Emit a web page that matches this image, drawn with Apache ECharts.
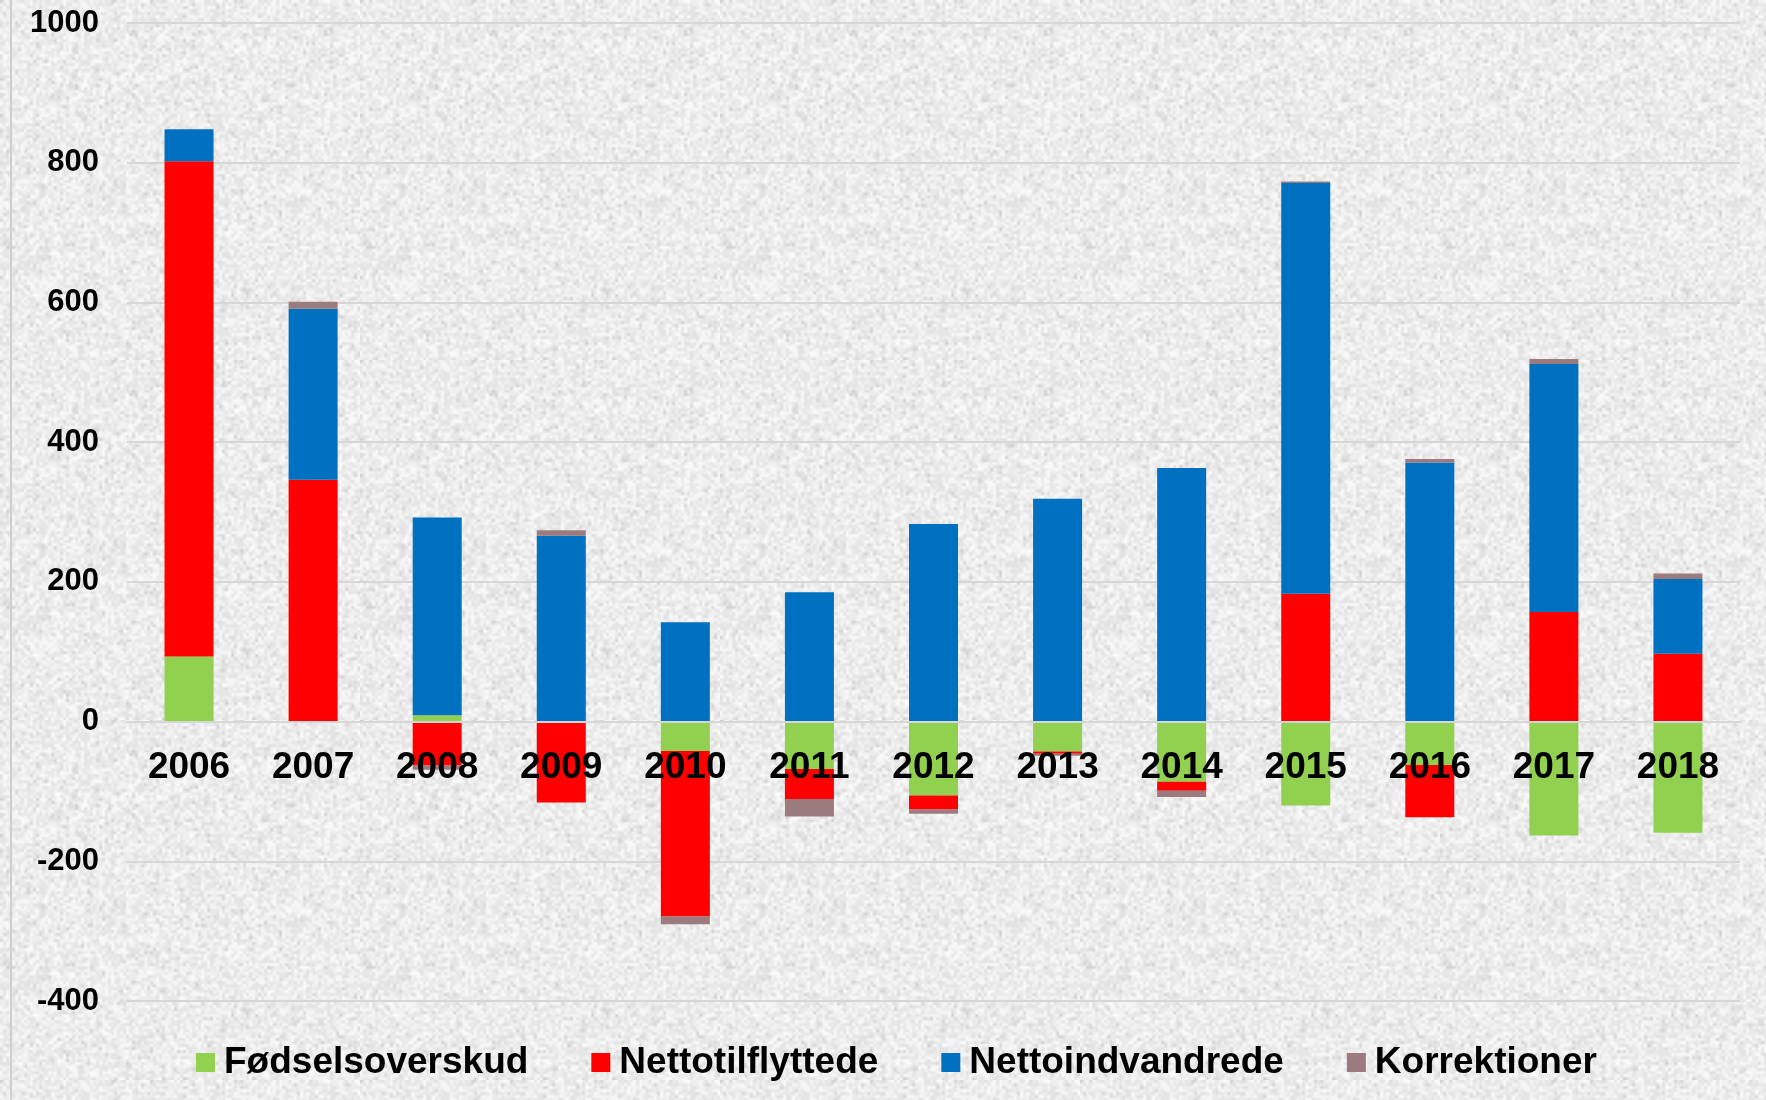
<!DOCTYPE html>
<html>
<head>
<meta charset="utf-8">
<script src="https://cdn.jsdelivr.net/npm/echarts@6/dist/echarts.min.js"></script>
<style>
  html, body { margin: 0; padding: 0; background: #ffffff; }
  #main { width: 1766px; height: 1100px; }
</style>
</head>
<body>
<div id="main"></div>
<script>
// years on the x axis
var years = ['2006', '2007', '2008', '2009', '2010', '2011', '2012',
             '2013', '2014', '2015', '2016', '2017', '2018'];

// components of population change
var foedsel    = [93, -2, 9, -2, -42, -68, -106, -43, -86, -120, -62, -163, -159];
var tilflyt    = [709, 346, -63, -114, -237, -43, -20, -3, -13, 183, -75, 157, 97];
var indvandr   = [46, 245, 283, 266, 142, 185, 283, 319, 363, 588, 371, 355, 107];
var korrektion = [0, 10, -6, 8, -11, -25, -6, -3, -9, 2, 5, 7, 8];

var yTicks = { min: -400, max: 1000, step: 200 };

// speckled paper background (deterministic hash noise, purely decorative)
function hash(x, y) {
    var n = Math.imul(x, 374761393) + Math.imul(y, 668265263);
    n = Math.imul(n ^ (n >>> 13), 1274126177);
    n = n ^ (n >>> 16);
    return (n & 0xffff) / 65535;
}
function makeTexture() {
    var small = document.createElement('canvas');
    small.width = 120; small.height = 120;
    var sctx = small.getContext('2d');
    var img = sctx.createImageData(120, 120);
    for (var y = 0; y < 120; y++) {
        for (var x = 0; x < 120; x++) {
            var r = hash(x, y);
            var v = 224 + Math.round(r * 28);
            if (hash(x + 500, y + 77) > 0.9) v -= 18;
            var i = (y * 120 + x) * 4;
            img.data[i] = v; img.data[i + 1] = v; img.data[i + 2] = v; img.data[i + 3] = 255;
        }
    }
    sctx.putImageData(img, 0, 0);
    var big = document.createElement('canvas');
    big.width = 360; big.height = 360;
    var bctx = big.getContext('2d');
    bctx.imageSmoothingEnabled = true;
    bctx.drawImage(small, 0, 0, 360, 360);
    return big;
}

var font = "'Liberation Sans', Arial, sans-serif";

function barSeries(name, data, color) {
    return {
        name: name,
        type: 'bar',
        stack: 'total',
        barWidth: '39.5%',
        itemStyle: { color: color },
        emphasis: { disabled: true },
        data: data
    };
}

var gridTop = 23, gridBottom = 99, chartH = 1100;
// distance from the zero line to the bottom of the plot, so the year labels sit under zero
var plotH = chartH - gridTop - gridBottom;
var zeroOffset = plotH * (0 - yTicks.min) / (yTicks.max - yTicks.min);

var option = {
    backgroundColor: { image: makeTexture(), repeat: 'repeat' },
    animation: false,
    textStyle: { fontFamily: font },
    grid: {
        left: 127,
        right: 26,
        top: gridTop,
        bottom: gridBottom
    },
    legend: {
        left: 191,
        top: 1039,
        itemWidth: 19,
        itemHeight: 19,
        itemGap: 63,
        icon: 'rect',
        textStyle: {
            fontFamily: font,
            fontSize: 37,
            fontWeight: 'bold',
            color: '#000',
            padding: [0, 0, 0, 4]
        },
        data: ['Fødselsoverskud', 'Nettotilflyttede', 'Nettoindvandrede', 'Korrektioner']
    },
    xAxis: {
        type: 'category',
        data: years,
        offset: -zeroOffset,
        axisLine: { show: true, onZero: false, lineStyle: { color: '#d6d6d6', width: 2 } },
        axisTick: { show: false },
        axisLabel: {
            margin: 28,
            fontFamily: font,
            fontSize: 37,
            fontWeight: 'bold',
            color: '#000'
        },
        splitLine: { show: false },
        z: 10
    },
    yAxis: {
        type: 'value',
        min: yTicks.min,
        max: yTicks.max,
        interval: yTicks.step,
        axisLine: { show: false },
        axisTick: { show: false },
        axisLabel: {
            margin: 28,
            fontFamily: font,
            fontSize: 31,
            fontWeight: 'bold',
            color: '#000',
            formatter: function (v) { return String(v); }
        },
        splitLine: { lineStyle: { color: '#d6d6d6', width: 2 } }
    },
    graphic: [{
        type: 'line',
        shape: { x1: 11, y1: 0, x2: 11, y2: 1100 },
        style: { stroke: '#cfcfcf', lineWidth: 2 },
        silent: true
    }],
    series: [
        barSeries('Fødselsoverskud', foedsel, '#92D050'),
        barSeries('Nettotilflyttede', tilflyt, '#FF0000'),
        barSeries('Nettoindvandrede', indvandr, '#0070C0'),
        barSeries('Korrektioner', korrektion, '#9C7B7E')
    ]
};

var myChart = echarts.init(document.getElementById('main'));
myChart.setOption(option);
</script>
</body>
</html>
